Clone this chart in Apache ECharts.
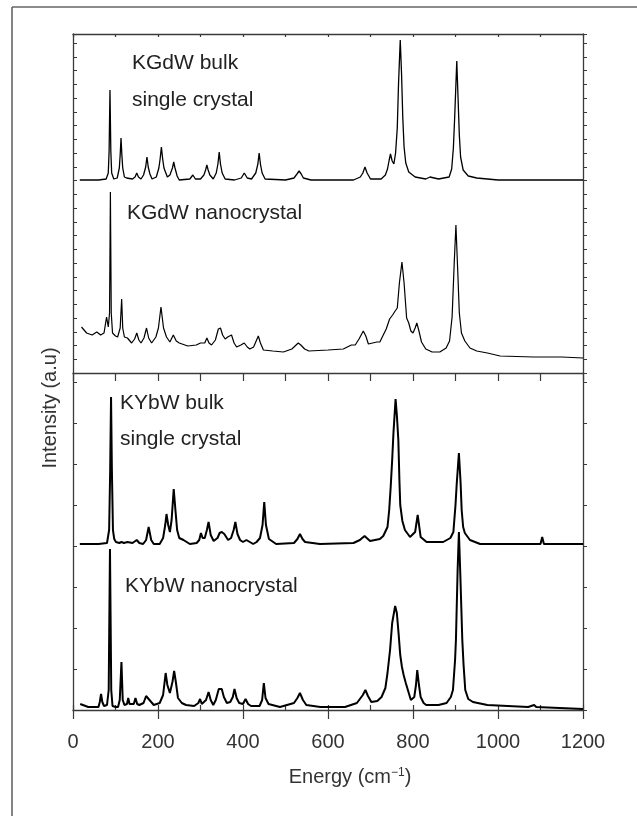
<!DOCTYPE html>
<html>
<head>
<meta charset="utf-8">
<script src="https://cdn.jsdelivr.net/npm/echarts@6.0.0/dist/echarts.min.js"></script>
<style>
  html, body { margin: 0; padding: 0; background: #fff; }
  #chart { width: 637px; height: 816px; }
</style>
</head>
<body>
<div id="chart"></div>
<script>
// Raman spectra: [energy cm-1, intensity a.u.]
const energyTicks = [0, 200, 400, 600, 800, 1000, 1200];

const kgdwBulk = [[16,193],[60,193],[78,194],[83,200],[85,222],[87,283],[89,222],[91,200],[96,194],[104,195],[109,205],[111,218],[113,235],[115,218],[117,205],[121,196],[126,195],[140,194],[146,196],[150,200],[154,196],[160,194],[166,198],[171,206],[174,216],[177,206],[181,199],[186,194],[196,196],[202,205],[205,214],[208,226],[211,214],[214,205],[222,196],[228,198],[234,205],[237,211],[240,205],[245,197],[250,193],[275,194],[282,198],[288,194],[300,194],[308,198],[312,203],[315,208],[318,203],[322,198],[330,194],[337,200],[341,209],[344,221],[347,209],[351,200],[358,194],[380,193],[396,195],[403,200],[410,195],[420,194],[430,200],[435,209],[438,220],[441,209],[445,200],[452,194],[500,193],[520,195],[527,199],[532,202],[537,199],[542,195],[560,193],[660,193],[676,196],[682,200],[687,206],[692,200],[700,194],[725,194],[735,198],[740,204],[744,213],[747,219],[751,212],[755,209],[759,220],[763,245],[766,290],[770,333],[773,300],[776,255],[779,226],[783,210],[790,201],[805,196],[830,194],[840,196],[860,194],[885,196],[891,204],[895,225],[898,255],[903,312],[906,275],[909,238],[912,216],[918,203],[930,197],[950,195],[975,194],[1000,193],[1200,193]];

const kgdwNano = [[20,46],[32,40],[45,38],[56,41],[65,38],[73,40],[79,56],[83,46],[86,60],[88,181],[90,60],[93,40],[100,37],[105,36],[111,45],[114.5,74],[117,45],[121,36],[128,35],[138,30],[145,34],[150,40],[155,33],[160,30],[167,35],[173,45],[178,35],[185,30],[195,36],[201,45],[207,66],[213,45],[220,36],[228,31],[236,38],[243,32],[250,30],[270,27],[290,28],[300,30],[310,30],[315,35],[320,30],[326,28],[335,33],[342,44],[347,45],[352,38],[358,34],[364,36],[373,38],[379,30],[385,26],[395,28],[403,30],[410,26],[416,24],[425,26],[431,32],[436,37],[441,30],[448,23],[470,22],[495,21],[515,24],[525,28],[530,30],[536,28],[545,24],[555,22],[600,23],[636,24],[655,28],[664,28],[673,34],[683,42],[689,37],[695,29],[705,30],[715,31],[722,31],[730,38],[737,44],[745,54],[752,58],[758,62],[763,65],[768,90],[774,111],[779,90],[785,55],[790,50],[795,42],[800,40],[805,45],[809,50],[814,42],[820,31],[830,24],[845,21],[863,21],[878,25],[886,32],[892,56],[897,110],[901,148],[905,105],[909,60],[914,40],[922,32],[934,25],[950,22],[975,20],[1005,17],[1083,16],[1150,16],[1200,15]];

const kybwBulk = [[16,166],[45,166],[60,166],[80,167],[85,180],[87.5,240],[89.5,313],[91.5,240],[94,180],[97,171],[101,168],[109,167],[114,168],[120,167],[128,168],[140,167],[150,170],[156,167],[165,166],[172,170],[178,183],[184,170],[190,166],[204,166],[212,172],[217,185],[220,196],[224,185],[228,178],[232,190],[237,221],[241,200],[245,180],[250,172],[260,170],[275,166],[291,167],[297,170],[301,177],[305,172],[310,172],[315,180],[319,188],[324,175],[331,169],[340,172],[345,177],[350,178],[356,176],[365,170],[372,172],[378,180],[382,188],[387,176],[393,170],[400,168],[408,170],[416,168],[424,166],[432,168],[440,172],[446,185],[450,208],[454,185],[461,171],[478,166],[520,167],[528,171],[534,176],[540,171],[546,168],[581,166],[660,167],[675,170],[686,174],[699,169],[722,171],[730,174],[740,183],[744,200],[747.5,223],[751,250],[754,277],[759,311],[762,295],[765.5,270],[768,230],[770,205],[775,189],[781,180],[793,173],[805,178],[811,195],[818,173],[832,168],[871,168],[888,172],[895,178],[900,205],[903,227],[908,257],[912,227],[914.5,200],[918,183],[922,177],[934,170],[958,166],[1100,166],[1104,173],[1108,166],[1200,166]];

const kybwNano = [[17,6],[36,3],[60,3],[63,8],[66,16],[69,8],[73,4],[80,5],[84,20],[87,161],[90,20],[93,4],[100,3],[106,3],[110,10],[114,48],[117,10],[121,5],[127,6],[130,12],[133,6],[137,4],[143,6],[147,12],[151,6],[156,5],[166,7],[172,14],[175,16],[180,10],[190,5],[204,7],[212,15],[218,37],[222,25],[228,17],[234,28],[238,39],[242,28],[247,12],[256,7],[266,5],[285,4],[295,7],[299,11],[303,6],[307,5],[313,10],[319,18],[324,10],[330,5],[336,10],[343,21],[350,21],[355,13],[362,7],[370,8],[376,13],[380,21],[385,12],[391,7],[400,6],[406,11],[412,6],[419,4],[439,4],[445,10],[449,27],[453,12],[460,6],[487,3],[520,7],[528,12],[534,17],[541,10],[549,5],[582,3],[640,3],[668,7],[682,15],[688,20],[694,14],[702,8],[716,9],[726,13],[735,22],[740,37],[746,60],[751,87],[758,104],[762,97],[766,77],[770,55],[774,43],[778,35],[783,27],[795,10],[803,13],[807,25],[810,40],[814,25],[818,13],[825,7],[831,5],[860,5],[879,7],[889,13],[894,20],[899,50],[901,70],[905,140],[908,178],[911,140],[916,70],[919,45],[923,20],[930,11],[941,8],[975,5],[1071,3],[1085,5],[1090,3],[1200,1]];

const spectrumLabels = [
  { text: 'KGdW bulk', x: 132, y: 63 },
  { text: 'single crystal', x: 132, y: 100 },
  { text: 'KGdW nanocrystal', x: 127, y: 213 },
  { text: 'KYbW bulk', x: 120, y: 403 },
  { text: 'single crystal', x: 120, y: 439 },
  { text: 'KYbW nanocrystal', x: 125, y: 586 }
];

const FONT = '"Liberation Sans", Arial, Helvetica, sans-serif';
const AXIS = '#3a3a3a';

const chart = echarts.init(document.getElementById('chart'), null, { renderer: 'canvas' });

function xAx(grid, position, interval, tickLen, inside, showLine, showLabel) {
  return {
    type: 'value', gridIndex: grid, position: position,
    min: energyTicks[0], max: energyTicks[energyTicks.length - 1], interval: interval,
    axisLine: { show: showLine, onZero: false, lineStyle: { color: AXIS, width: 1.3 } },
    axisTick: { show: true, inside: inside, length: tickLen, lineStyle: { color: AXIS, width: 1.2 } },
    axisLabel: {
      show: showLabel, margin: 22, fontSize: 20, color: '#333', fontFamily: FONT,
      hideOverlap: false, showMinLabel: true, showMaxLabel: true,
      formatter: function (v) { return String(v); }
    },
    splitLine: { show: false }
  };
}

function yAx(grid, position, max, interval, inside) {
  return {
    type: 'value', gridIndex: grid, position: position,
    min: 0, max: max, interval: interval,
    axisLine: { show: true, onZero: false, lineStyle: { color: AXIS, width: 1.3 } },
    axisTick: { show: true, inside: inside, length: 4, lineStyle: { color: AXIS, width: 1 } },
    axisLabel: { show: false },
    splitLine: { show: false }
  };
}

const option = {
  animation: false,
  backgroundColor: '#fff',
  grid: [
    { left: 73, right: 54, top: 34, height: 339, containLabel: false, outerBoundsMode: 'none' },
    { left: 73, right: 54, top: 373, height: 337, containLabel: false, outerBoundsMode: 'none' }
  ],
  xAxis: [
    xAx(0, 'bottom', 100, 8, false, true, false),
    xAx(0, 'top', 100, 3, true, true, false),
    xAx(1, 'bottom', 200, 9, false, true, true),
    xAx(1, 'bottom', 100, 5, true, false, false)
  ],
  yAxis: [
    yAx(0, 'left', 339, 13.75, true),
    yAx(0, 'right', 339, 13.75, false),
    yAx(1, 'left', 337, 41, true),
    yAx(1, 'right', 337, 41, false)
  ],
  series: [
    { type: 'line', name: 'KGdW bulk', xAxisIndex: 0, yAxisIndex: 0, data: kgdwBulk,
      showSymbol: false, lineStyle: { color: '#000', width: 1.3 } },
    { type: 'line', name: 'KGdW nano', xAxisIndex: 0, yAxisIndex: 0, data: kgdwNano,
      showSymbol: false, lineStyle: { color: '#000', width: 1.2 } },
    { type: 'line', name: 'KYbW bulk', xAxisIndex: 2, yAxisIndex: 2, data: kybwBulk,
      showSymbol: false, lineStyle: { color: '#000', width: 2 } },
    { type: 'line', name: 'KYbW nano', xAxisIndex: 2, yAxisIndex: 2, data: kybwNano,
      showSymbol: false, lineStyle: { color: '#000', width: 2 } }
  ],
  graphic: [
    // outer frame (left and top edges only)
    { type: 'line', shape: { x1: 12, y1: 7, x2: 12, y2: 816 }, style: { stroke: '#666', lineWidth: 1.6 } },
    { type: 'line', shape: { x1: 12, y1: 7, x2: 637, y2: 7 }, style: { stroke: '#666', lineWidth: 1.6 } },
    {
      type: 'text', x: 50, y: 408, rotation: Math.PI / 2,
      style: { text: 'Intensity (a.u)', font: '20px ' + FONT, fill: '#333',
        align: 'center', verticalAlign: 'middle', textAlign: 'center', textVerticalAlign: 'middle' }
    },
    {
      type: 'text', x: 350, y: 777,
      style: {
        text: 'Energy (cm{sup|−1})', font: '20px ' + FONT, fill: '#333',
        align: 'center', verticalAlign: 'middle', textAlign: 'center', textVerticalAlign: 'middle',
        rich: { sup: { fontSize: 12, fontFamily: FONT, fill: '#333', verticalAlign: 'top', padding: [0, 0, 6, 0] } }
      }
    }
  ].concat(spectrumLabels.map(function (l) {
    return {
      type: 'text', x: l.x, y: l.y,
      style: { text: l.text, font: '21px ' + FONT, fill: '#222',
        align: 'left', verticalAlign: 'middle', textAlign: 'left', textVerticalAlign: 'middle' }
    };
  }))
};

chart.setOption(option);
window.addEventListener('resize', function () { chart.resize(); });
</script>
</body>
</html>
